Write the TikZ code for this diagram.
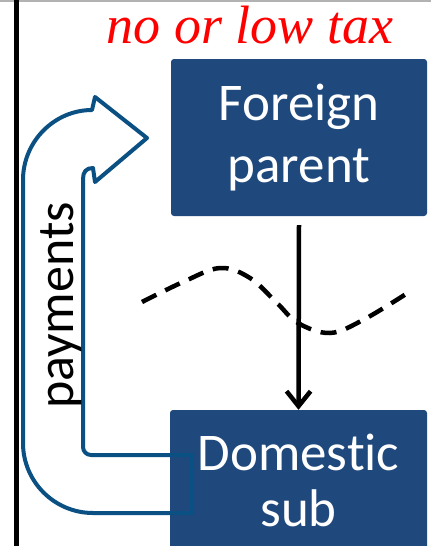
\documentclass[tikz,border=0pt]{standalone}
\usepackage{fontspec}
\newfontfamily\calib[Ligatures=NoCommon]{Carlito}
\newfontfamily\taxfont{Liberation Serif}
\usetikzlibrary{arrows.meta}
\definecolor{boxblue}{RGB}{31,73,125}
\definecolor{payblue}{RGB}{10,80,130}
\begin{document}
\begin{tikzpicture}[x=1pt,y=-1pt,
  entity/.style={fill=boxblue, rounded corners=3pt, text=white, align=center, inner sep=0pt},
  boxfont/.style={font=\calib\fontsize{53}{#1}\selectfont},
  thick line/.style={line width=4.5pt}]
\useasboundingbox (0,0) rectangle (431,546);
\draw[gray!60, line width=2pt] (0,1) -- (431,1);
\draw[line width=5pt] (16.5,0) -- (16.5,546);
\node[red, font=\taxfont\itshape\fontsize{54}{54}\selectfont, anchor=base] (tax) at (250,43) {no or low tax};
\node[entity, boxfont=62, minimum width=256pt, minimum height=157pt] (fp) at (299,137.5) {Foreign\\parent};
\node[entity, boxfont=56, minimum width=257pt, minimum height=140pt] (ds) at (298.5,480) {Domestic\\sub};
\draw[thick line, -{Straight Barb[length=15pt,width=24pt]}] ([yshift=-9pt]fp.south) -- (ds.north);
\draw[thick line, dash pattern=on 16pt off 10pt] plot[smooth, tension=0.6] coordinates {(142,302) (183,282) (220,268) (250,278) (277,303) (298,323) (330,333) (363,320) (406,294)};
\draw[payblue, line width=4pt, line join=round]
  (192,513) -- (93,513) .. controls (54.4,513) and (23,481.6) .. (23,443)
  -- (23,180) .. controls (23,141.4) and (54.4,110) .. (92,110)
  -- (95,97) -- (147,138) -- (95,182) -- (93,168)
  .. controls (86,168) and (83,172) .. (83,179)
  -- (83,447) .. controls (83,451.4) and (86.6,455) .. (91,455)
  -- (192,455) -- cycle;
\node[rotate=90, font=\calib\fontsize{52}{52}\selectfont, anchor=base] (pay) at (73,305.5) {payments};
\end{tikzpicture}
\end{document}
